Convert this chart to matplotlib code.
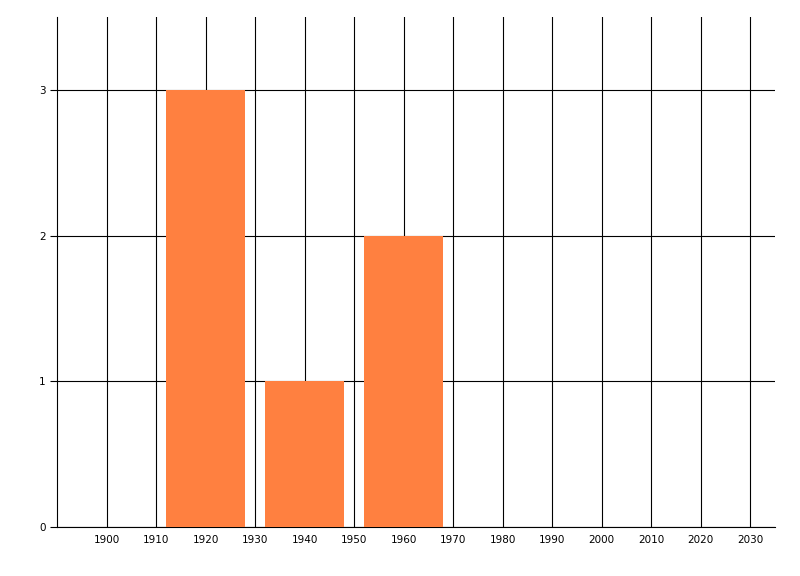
import matplotlib
matplotlib.use("Agg")
import matplotlib.pyplot as plt

# data
decades = [1920, 1940, 1960]
counts = [3, 1, 2]
xticks = list(range(1900, 2031, 10))
yticks = [0, 1, 2, 3]

fig = plt.figure(figsize=(8, 5.76), dpi=100)
ax = fig.add_axes([57 / 800, 1 - 527 / 576, (775 - 57) / 800, (527 - 17) / 576])

ax.bar(decades, counts, width=16, color="#FF8040", zorder=3)

ax.set_xlim(1890, 2035)
ax.set_ylim(0, 3.5)
ax.set_xticks(xticks)
ax.set_yticks(yticks)
ax.grid(True, color="black", linewidth=0.8, zorder=0)
ax.set_axisbelow(True)

for s in ["top", "right"]:
    ax.spines[s].set_visible(False)
for s in ["left", "bottom"]:
    ax.spines[s].set_color("black")
    ax.spines[s].set_linewidth(0.8)

ax.tick_params(axis="x", length=0, pad=6, labelsize=7.5)
ax.tick_params(axis="y", length=5, width=0.8, pad=3, labelsize=7.5)

fig.savefig("out.png", dpi=100)
